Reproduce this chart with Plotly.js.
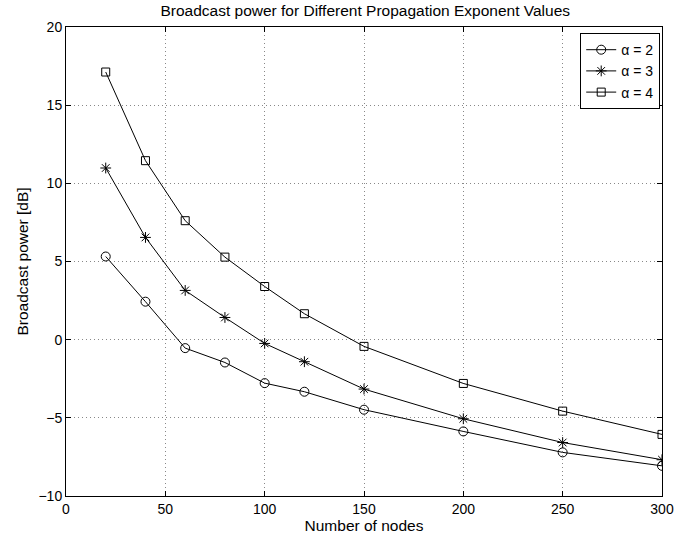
<!DOCTYPE html>
<html>
<head>
<meta charset="utf-8">
<script src="https://cdn.plot.ly/plotly-3.0.1.min.js"></script>
<style>html,body{margin:0;padding:0;background:#fff;}#chart{width:697px;height:542px;}</style>
</head>
<body>
<div id="chart"></div>
<script>
const nodes = [20, 40, 60, 80, 100, 120, 150, 200, 250, 300];
const alpha2 = [5.32, 2.43, -0.54, -1.46, -2.78, -3.33, -4.48, -5.87, -7.21, -8.07];
const alpha3 = [10.98, 6.54, 3.15, 1.42, -0.24, -1.41, -3.16, -5.06, -6.58, -7.68];
const alpha4 = [17.12, 11.45, 7.61, 5.28, 3.40, 1.66, -0.43, -2.80, -4.57, -6.06];
const seriesNames = ['α = 2', 'α = 3', 'α = 4'];
const xTicks = [0, 50, 100, 150, 200, 250, 300];
const yTicks = [-10, -5, 0, 5, 10, 15, 20];

const symbols = ['circle-open', 'asterisk-open', 'square-open'];
const sizes = [9, 9, 8];
const data = [alpha2, alpha3, alpha4].map((ys, i) => ({
  x: nodes, y: ys, name: seriesNames[i], type: 'scatter', mode: 'lines+markers',
  line: {color: '#000', width: 1},
  marker: {symbol: symbols[i], size: sizes[i], color: '#000', line: {color: '#000', width: 1}}
}));

const font = {family: '"Liberation Sans", Arial, Helvetica, sans-serif', size: 14, color: '#000'};
const axisCommon = {
  showline: true, linecolor: '#000', linewidth: 1, mirror: 'ticks',
  ticks: 'inside', ticklen: 5, tickcolor: '#000',
  showgrid: true, gridcolor: '#888', griddash: '1px,3px', gridwidth: 1,
  zeroline: false, tickfont: {size: 14}
};
const layout = {
  width: 697, height: 542,
  margin: {l: 66, r: 35, t: 27, b: 46},
  paper_bgcolor: '#fff', plot_bgcolor: '#fff',
  font: font,
  title: {text: 'Broadcast power for Different Propagation Exponent Values', x: 0.524, xanchor: 'center', y: 0.981, yanchor: 'middle', font: {size: 15.5}},
  xaxis: Object.assign({}, axisCommon, {range: [0, 300], tickvals: xTicks, ticktext: xTicks.map(String),
    title: {text: 'Number of nodes', font: {size: 15.5}, standoff: 4}}),
  yaxis: Object.assign({}, axisCommon, {range: [-10, 20], tickvals: yTicks, ticktext: yTicks.map(v => v < 0 ? '\u2212' + Math.abs(v) : String(v)),
    title: {text: 'Broadcast power [dB]', font: {size: 15.5}, standoff: 6}}),
  showlegend: true,
  legend: {x: 0.997, xanchor: 'right', y: 0.987, yanchor: 'top', bgcolor: '#fff',
    bordercolor: '#000', borderwidth: 1, font: {size: 14}, tracegroupgap: 0,
    entrywidth: 92, entrywidthmode: 'pixels'},
};
Plotly.newPlot('chart', data, layout, {displayModeBar: false, staticPlot: true});
</script>
</body>
</html>
